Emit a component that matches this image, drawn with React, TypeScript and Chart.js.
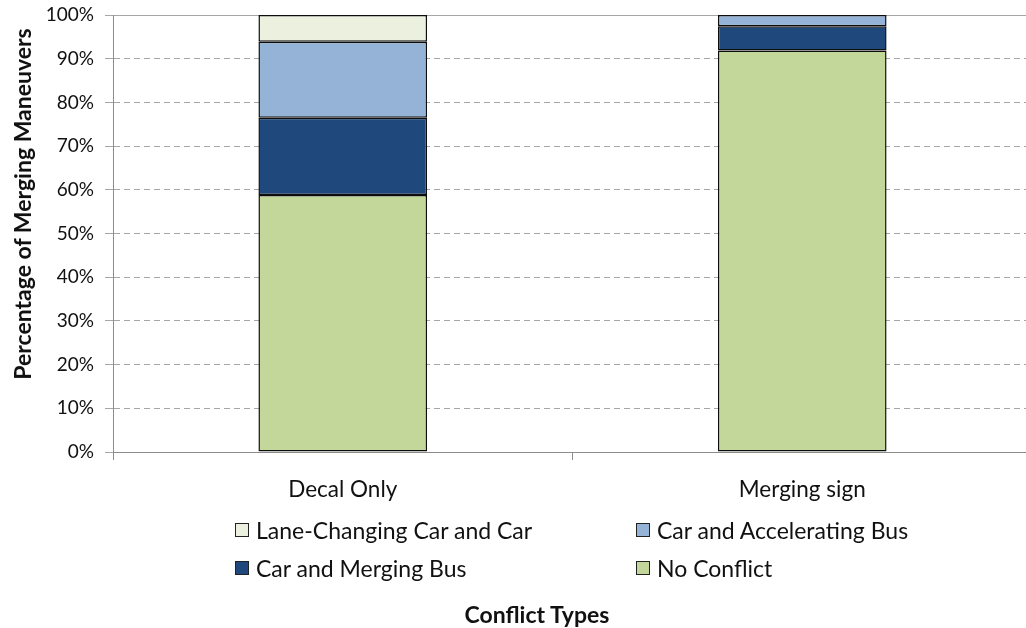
import React, { useEffect, useRef } from "react";
import { Chart, registerables } from "chart.js";

Chart.register(...registerables);

const categories = ["Decal Only", "Merging sign"];
const noConflict = [58.8, 91.9];
const carMergingBus = [17.7, 5.5];
const carAcceleratingBus = [17.4, 2.6];
const laneChangingCarCar = [6.1, 0];

const seriesNames = [
  "No Conflict",
  "Car and Merging Bus",
  "Car and Accelerating Bus",
  "Lane-Changing Car and Car",
];
const seriesColors = ["#c4d79b", "#1f497d", "#95b3d7", "#ebf1de"];
const seriesValues = [noConflict, carMergingBus, carAcceleratingBus, laneChangingCarCar];

// legend order (2 columns, row-major)
const legendOrder = [3, 2, 1, 0];

const yAxisTitle = "Percentage of Merging Maneuvers";
const xAxisTitle = "Conflict Types";

const FONT = "Lato, 'Open Sans', sans-serif";

export default function App() {
  const canvasRef = useRef<HTMLCanvasElement | null>(null);

  useEffect(() => {
    if (!canvasRef.current) return;
    Chart.defaults.font.family = FONT;
    const chart = new Chart(canvasRef.current, {
      type: "bar",
      data: {
        labels: categories,
        datasets: seriesValues.map((vals, i) => ({
          label: seriesNames[i],
          data: vals,
          backgroundColor: seriesColors[i],
          borderColor: "#0d0d0d",
          borderWidth: (ctx: any) => (ctx.raw === 0 ? 0 : 1.5),
          borderSkipped: false,
          categoryPercentage: 1,
          barPercentage: 0.367,
        })),
      },
      options: {
        responsive: false,
        animation: false,
        layout: { padding: { top: 15, right: 8, left: 0, bottom: 0 } },
        plugins: {
          legend: { display: false },
          tooltip: { enabled: false },
        },
        scales: {
          x: {
            stacked: true,
            offset: true,
            grid: {
              display: true,
              offset: true,
              drawOnChartArea: false,
              drawTicks: true,
              tickLength: 8,
              color: "#8c8c8c",
              tickColor: "#8c8c8c",
            },
            border: { display: true, color: "#8c8c8c", width: 1 },
            ticks: {
              color: "#111",
              font: { size: 22.5, family: FONT },
              padding: 16,
            },
            afterFit: (scale: any) => {
              scale.height = 176;
              scale.paddingLeft = 0;
              scale.paddingRight = 0;
            },
          },
          y: {
            stacked: true,
            min: 0,
            max: 100,
            ticks: {
              stepSize: 10,
              color: "#111",
              font: { size: 19, family: FONT },
              padding: 11,
              callback: (v: any) => v + "%",
            },
            grid: {
              color: "#a6a6a6",
              tickColor: "#a6a6a6",
              tickLength: 8,
              lineWidth: 1,
            },
            border: {
              display: true,
              color: "#8c8c8c",
              width: 1,
              dash: (ctx: any) =>
                ctx.tick && ctx.tick.value !== 100 && ctx.tick.value !== 0 ? [6, 4] : [],
            } as any,
            title: { display: false },
            afterFit: (scale: any) => {
              scale.width = 113;
              scale.paddingTop = 0;
              scale.paddingBottom = 0;
            },
          },
        },
      },
    });
    return () => chart.destroy();
  }, []);

  return (
    <div
      style={{
        position: "fixed",
        left: 0,
        top: 0,
        width: 1026,
        height: 628,
        overflow: "hidden",
        background: "#fff",
        fontFamily: FONT,
      }}
    >
      <canvas
        ref={canvasRef}
        width={1040}
        height={628}
        style={{ position: "absolute", left: 0, top: 0, width: 1040, height: 628 }}
      />
      <div
        style={{
          position: "absolute",
          left: 22 - 200,
          top: 204 - 15,
          width: 400,
          height: 30,
          lineHeight: "30px",
          textAlign: "center",
          transform: "rotate(-90deg)",
          fontSize: 23,
          fontWeight: "bold",
          color: "#111",
          whiteSpace: "nowrap",
        }}
      >
        {yAxisTitle}
      </div>
      {legendOrder.map((si, k) => {
        const col = k % 2;
        const row = Math.floor(k / 2);
        const left = col === 0 ? 235 : 636;
        const top = row === 0 ? 516 : 554;
        return (
          <div
            key={si}
            style={{
              position: "absolute",
              left,
              top,
              height: 28,
              display: "flex",
              alignItems: "center",
              fontSize: 23,
              color: "#111",
              whiteSpace: "nowrap",
            }}
          >
            <span
              style={{
                display: "inline-block",
                width: 12,
                height: 12,
                background: seriesColors[si],
                border: "1.5px solid #222",
                marginRight: 7,
              }}
            />
            <span>{seriesNames[si]}</span>
          </div>
        );
      })}
      <div
        style={{
          position: "absolute",
          left: 337,
          width: 400,
          top: 599,
          height: 30,
          lineHeight: "30px",
          textAlign: "center",
          fontSize: 23,
          fontWeight: "bold",
          color: "#111",
        }}
      >
        {xAxisTitle}
      </div>
    </div>
  );
}
